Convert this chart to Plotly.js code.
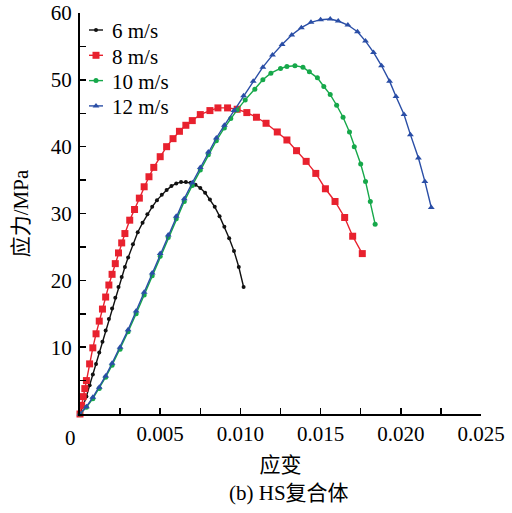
<!DOCTYPE html>
<html>
<head>
<meta charset="utf-8">
<script src="https://cdn.plot.ly/plotly-3.0.1.min.js"></script>
<style>html,body{margin:0;padding:0;background:#fff;}#chart{width:512px;height:513px;}</style>
</head>
<body>
<div id="chart"></div>
<script>
// 6 m/s
const strain6 = [0, 0.0002, 0.0004, 0.0006, 0.0008, 0.0010, 0.0012, 0.0014, 0.0016, 0.0018, 0.0020, 0.0022, 0.0024, 0.0026, 0.0028, 0.0030, 0.0033, 0.0036, 0.0039, 0.0042, 0.0045, 0.0048, 0.0051, 0.0054, 0.0057, 0.0060, 0.0063, 0.0066, 0.0069, 0.0072, 0.0075, 0.0078, 0.0081, 0.0084, 0.0087, 0.0090, 0.0093, 0.0096, 0.0099, 0.0102];
const stress6 = [0, 1.2, 2.6, 4.3, 5.9, 7.5, 9.2, 10.8, 12.5, 14.2, 15.8, 17.4, 19.0, 20.5, 22.0, 23.4, 25.4, 27.2, 28.6, 29.9, 31.0, 32.0, 32.8, 33.5, 34.1, 34.5, 34.7, 34.7, 34.6, 34.3, 33.8, 33.1, 32.1, 31.0, 29.6, 28.0, 26.3, 24.4, 22.0, 19.0];
// 8 m/s
const strain8 = [0, 0.0001, 0.0002, 0.0003, 0.0004, 0.0006, 0.0008, 0.0010, 0.0012, 0.0014, 0.0016, 0.0018, 0.0020, 0.0022, 0.0024, 0.0026, 0.0028, 0.0031, 0.0034, 0.0037, 0.0040, 0.0043, 0.0046, 0.0050, 0.0054, 0.0058, 0.0062, 0.0066, 0.0070, 0.0075, 0.0081, 0.0086, 0.0092, 0.0098, 0.0104, 0.0110, 0.0116, 0.0123, 0.0129, 0.0135, 0.0141, 0.0147, 0.0153, 0.0159, 0.0165, 0.0170, 0.0176];
const stress8 = [0, 1.3, 2.6, 3.8, 5.0, 7.5, 9.9, 12.0, 13.9, 15.7, 17.5, 19.3, 20.9, 22.5, 24.1, 25.6, 27.0, 29.0, 30.6, 32.3, 34.0, 35.5, 36.9, 38.5, 40.0, 41.2, 42.3, 43.2, 43.9, 44.8, 45.4, 45.8, 45.8, 45.6, 45.1, 44.4, 43.5, 42.2, 41.0, 39.4, 37.8, 36.0, 33.7, 31.8, 29.4, 26.6, 24.0];
// 10 m/s
const strain10 = [0, 0.0004, 0.0008, 0.0012, 0.0016, 0.0020, 0.0025, 0.0030, 0.0035, 0.0040, 0.0045, 0.0050, 0.0055, 0.0060, 0.0065, 0.0070, 0.0075, 0.0080, 0.0085, 0.0090, 0.0094, 0.0098, 0.0103, 0.0109, 0.0114, 0.0119, 0.0125, 0.0129, 0.0134, 0.0139, 0.0143, 0.0148, 0.0152, 0.0156, 0.0160, 0.0164, 0.0168, 0.0171, 0.0175, 0.0178, 0.0181, 0.0184];
const stress10 = [0, 1.0, 2.3, 3.8, 5.5, 7.3, 9.7, 12.3, 15.0, 17.8, 20.7, 23.6, 26.4, 29.2, 31.8, 34.2, 36.5, 38.8, 40.9, 42.8, 44.2, 45.5, 47.0, 48.6, 50.0, 51.0, 51.7, 52.0, 52.1, 51.9, 51.2, 50.3, 49.0, 47.8, 46.2, 44.4, 42.2, 40.0, 37.4, 34.8, 31.8, 28.4];
// 12 m/s
const strain12 = [0, 0.0004, 0.0008, 0.0012, 0.0016, 0.0020, 0.0025, 0.0030, 0.0035, 0.0040, 0.0045, 0.0050, 0.0055, 0.0060, 0.0065, 0.0070, 0.0075, 0.0080, 0.0085, 0.0090, 0.0096, 0.0102, 0.0108, 0.0114, 0.0120, 0.0126, 0.0132, 0.0138, 0.0144, 0.0150, 0.0156, 0.0161, 0.0167, 0.0173, 0.0178, 0.0183, 0.0188, 0.0193, 0.0197, 0.0202, 0.0206, 0.0211, 0.0215, 0.0219];
const stress12 = [0, 1.1, 2.5, 4.0, 5.7, 7.6, 10.0, 12.6, 15.4, 18.2, 21.1, 24.0, 26.8, 29.6, 32.2, 34.6, 36.9, 39.2, 41.3, 43.2, 45.4, 47.6, 49.8, 51.9, 53.7, 55.3, 56.7, 57.8, 58.6, 59.0, 59.1, 58.8, 58.2, 57.2, 55.8, 54.1, 52.1, 49.8, 47.5, 44.8, 41.8, 38.3, 34.8, 30.9];

const seriesNames = ['6 m/s', '8 m/s', '10 m/s', '12 m/s'];
const xTickVals = [0.005, 0.010, 0.015, 0.020, 0.025];
const xTickText = ['0.005', '0.010', '0.015', '0.020', '0.025'];
const yTickVals = [10, 20, 30, 40, 50, 60];
const xTitle = '应变';
const yTitle = '应力/MPa';
const caption = '(b) HS复合体';

const FONT = 'Liberation Serif, Times New Roman, Noto Sans CJK SC, serif';
const FS = 21;

function tr(x, y, name, color, symbol, size) {
  return {
    x: x, y: y, name: name, type: 'scatter', mode: 'lines+markers',
    line: {color: color, width: 1.4},
    marker: {color: color, symbol: symbol, size: size, line: {width: 0}},
    cliponaxis: false
  };
}

const data = [
  tr(strain6, stress6, seriesNames[0], '#111111', 'circle', 4),
  tr(strain8, stress8, seriesNames[1], '#e8212e', 'square', 7),
  tr(strain10, stress10, seriesNames[2], '#16a84a', 'circle', 5),
  tr(strain12, stress12, seriesNames[3], '#2a4ea6', 'triangle-up', 6)
];

const layout = {
  width: 512, height: 513,
  margin: {l: 80, r: 31, t: 13, b: 99},
  paper_bgcolor: '#fff', plot_bgcolor: '#fff',
  font: {family: FONT, size: FS, color: '#000'},
  showlegend: true,
  legend: {x: 0.005, y: 1.0, xanchor: 'left', yanchor: 'top', bgcolor: 'rgba(0,0,0,0)', borderwidth: 0,
           font: {family: FONT, size: FS, color: '#000'}, tracegroupgap: 0, itemwidth: 30},
  xaxis: {
    range: [0, 0.025], showgrid: false, zeroline: false,
    showline: true, linecolor: '#000', linewidth: 2,
    ticks: 'inside', ticklen: 6, tickwidth: 1.5, tickcolor: '#000',
    tickvals: xTickVals, ticktext: xTickText,
    minor: {tickvals: [0.0025, 0.0075, 0.0125, 0.0175, 0.0225], ticks: 'inside', ticklen: 6, tickwidth: 1.5, tickcolor: '#000'},
    tickfont: {family: FONT, size: FS},
    title: {text: xTitle, font: {family: FONT, size: FS}, standoff: 12}
  },
  yaxis: {
    range: [0, 60], showgrid: false, zeroline: false,
    showline: true, linecolor: '#000', linewidth: 2,
    ticks: 'inside', ticklen: 6, tickwidth: 1.5, tickcolor: '#000',
    tickvals: yTickVals, ticklabelstandoff: 2,
    minor: {tickvals: [5, 15, 25, 35, 45, 55], ticks: 'inside', ticklen: 6, tickwidth: 1.5, tickcolor: '#000'},
    tickfont: {family: FONT, size: FS},
    title: {text: yTitle, font: {family: FONT, size: FS}, standoff: 16}
  },
  annotations: [
    {xref: 'x', yref: 'y', x: 0, y: 0, text: '0', showarrow: false, xanchor: 'center', yanchor: 'top', xshift: -10, yshift: -10, font: {family: FONT, size: FS}},
    {xref: 'paper', yref: 'paper', x: 0.52, y: -0.197, text: caption, showarrow: false, xanchor: 'center', yanchor: 'middle', font: {family: FONT, size: FS}}
  ]
};

function parseT(el) {
  const t = el.getAttribute('transform') || '';
  const m = /translate\(\s*([-\d.e]+)[ ,]+([-\d.e]+)\s*\)/.exec(t);
  return m ? [parseFloat(m[1]), parseFloat(m[2])] : [0, 0];
}

Plotly.newPlot('chart', data, layout, {staticPlot: true, displayModeBar: false}).then(function (gd) {
  // compact legend: shorter sample lines, tighter rows (as in the reference)
  const leg = gd.querySelector('.legend');
  if (!leg) return;
  const L = parseT(leg);
  const items = leg.querySelectorAll('.traces');
  items.forEach(function (it, i) {
    it.setAttribute('transform', 'translate(' + (76 - L[0]) + ',' + (30 + 25.3 * i - L[1]) + ')');
    it.querySelectorAll('.legendlines path').forEach(function (p) { p.setAttribute('d', 'M13,0h14'); });
    const txt = it.querySelector('.legendtext');
    if (txt) txt.setAttribute('x', 36);
  });
  const clip = document.querySelectorAll('clipPath[id^="legend"] rect');
  clip.forEach(function (r) { r.setAttribute('width', 200); r.setAttribute('height', 200); r.setAttribute('x', -50); r.setAttribute('y', -50); });
});
</script>
</body>
</html>
